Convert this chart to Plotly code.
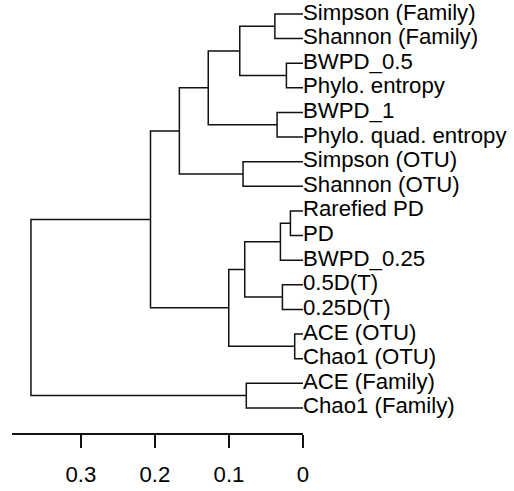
import plotly.graph_objects as go

# Leaf labels, top to bottom
labels = [
    "Simpson (Family)", "Shannon (Family)", "BWPD_0.5", "Phylo. entropy",
    "BWPD_1", "Phylo. quad. entropy", "Simpson (OTU)", "Shannon (OTU)",
    "Rarefied PD", "PD", "BWPD_0.25", "0.5D(T)", "0.25D(T)",
    "ACE (OTU)", "Chao1 (OTU)", "ACE (Family)", "Chao1 (Family)",
]

# R-style merge table: negative = leaf (1-based), positive = earlier merge (1-based)
merge_left = [-1, -3, -5, -7, -9, 5, -12, 6, -14, 8, -16, 1, 12, 13, 14, 15]
merge_right = [-2, -4, -6, -8, -10, -11, -13, 7, -15, 9, -17, 2, 3, 4, 10, 11]
merge_height = [0.038, 0.0224, 0.035, 0.081, 0.017, 0.0305, 0.0278, 0.0787,
                0.0112, 0.1003, 0.0766, 0.0854, 0.128, 0.167, 0.206, 0.3675]

tick_vals = [0, 0.1, 0.2, 0.3]
tick_text = ["0", "0.1", "0.2", "0.3"]

leaf_y = list(range(len(labels)))
node_pos = []  # (height, y) for each merge


def pos(ref):
    if ref < 0:
        return 0.0, leaf_y[-ref - 1]
    return node_pos[ref - 1]


xs, ys = [], []
for a, b, h in zip(merge_left, merge_right, merge_height):
    ha, ya = pos(a)
    hb, yb = pos(b)
    xs += [ha, h, h, hb, None]
    ys += [ya, ya, yb, yb, None]
    node_pos.append((h, (ya + yb) / 2))

FONT = "Liberation Sans, Arial, Helvetica, sans-serif"

fig = go.Figure()
fig.add_trace(go.Scatter(
    x=xs, y=ys, mode="lines",
    line=dict(color="#111111", width=1.5),
    hoverinfo="skip", showlegend=False,
))
fig.add_trace(go.Scatter(
    x=[0] * len(labels), y=leaf_y, mode="text", text=labels,
    textposition="middle right",
    textfont=dict(family=FONT, size=22.2, color="black"),
    cliponaxis=False, hoverinfo="skip", showlegend=False,
))

fig.update_layout(
    width=514, height=491,
    margin=dict(l=12, r=211, t=0, b=58),
    plot_bgcolor="white", paper_bgcolor="white",
    xaxis=dict(
        range=[0.3931, 0], showgrid=False, zeroline=False,
        showline=True, linecolor="#111111", linewidth=1.5,
        ticks="outside", ticklen=13, tickwidth=1.5, tickcolor="#111111",
        tickvals=tick_vals, ticktext=tick_text,
        tickfont=dict(family=FONT, size=22.2, color="black"),
        ticklabelstandoff=8,
    ),
    yaxis=dict(
        range=[17.02, -0.568], visible=False, showgrid=False, zeroline=False,
    ),
)

fig.write_html("out.html", config={"displayModeBar": False},
               post_script="document.body.style.margin='0';")
